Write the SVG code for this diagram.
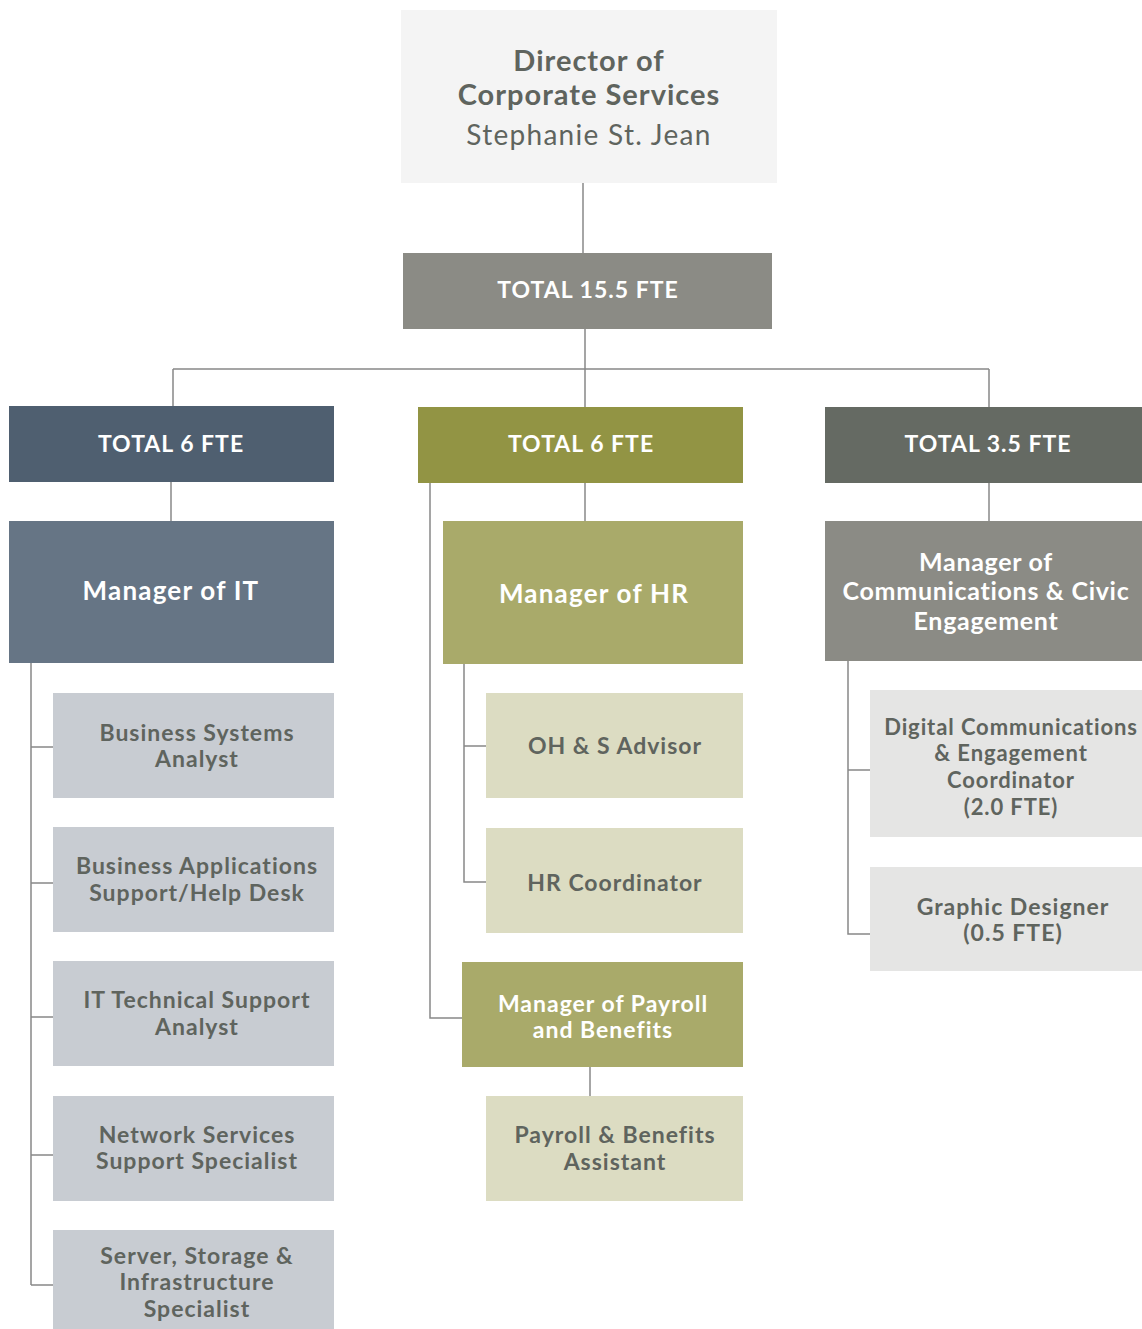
<svg xmlns="http://www.w3.org/2000/svg" width="1142" height="1329" viewBox="0 0 1142 1329">
<style>
text{font-family:Lato,"Noto Sans","Liberation Sans",sans-serif;text-anchor:middle;}
.hd{fill:#ffffff;font-size:23px;font-weight:700;letter-spacing:1px;}
.mg{fill:#ffffff;font-size:26px;font-weight:700;letter-spacing:1.2px;}
.mg2{fill:#ffffff;font-size:25px;font-weight:700;letter-spacing:0.7px;}
.ch{fill:#5f645e;font-size:23px;font-weight:700;letter-spacing:1px;}
.ch2{fill:#5f645e;font-size:22px;font-weight:700;letter-spacing:0.9px;}
.dir{fill:#5f645e;font-size:29px;font-weight:700;letter-spacing:1px;}
.nm{fill:#5f645e;font-size:28px;font-weight:400;letter-spacing:1.3px;}
.ln{stroke:#888888;stroke-width:1.5;fill:none;}
</style>
<rect width="1142" height="1329" fill="#ffffff"/>
<g id="connectors">
<path class="ln" d="M583 183V253"/>
<path class="ln" d="M585 329V369M173 369H989M173 369V406M585 369V407M989 369V407"/>
<path class="ln" d="M171 482V521"/>
<path class="ln" d="M31 663V1285M31 747H53M31 883H53M31 1017H53M31 1155H53M31 1285H53"/>
<path class="ln" d="M585 483V521"/>
<path class="ln" d="M430 483V1018H462"/>
<path class="ln" d="M464 664V882H486M464 746H486"/>
<path class="ln" d="M590 1067V1096"/>
<path class="ln" d="M989 483V521"/>
<path class="ln" d="M848 661V934H870M848 770H870"/>
</g>
<g id="director">
<rect x="401" y="10" width="376" height="173" fill="#f4f4f4"/>
<text class="dir" x="589" y="71">Director of</text>
<text class="dir" x="589" y="105">Corporate Services</text>
<text class="nm" x="589" y="145">Stephanie St. Jean</text>
</g>
<g id="total-all">
<rect x="403" y="253" width="369" height="76" fill="#8b8b85"/>
<text class="hd" x="588" y="298">TOTAL 15.5 FTE</text>
</g>
<g id="total-it">
<rect x="9" y="406" width="325" height="76" fill="#4f5f70"/>
<text class="hd" x="171" y="452">TOTAL 6 FTE</text>
</g>
<g id="mgr-it">
<rect x="9" y="521" width="325" height="142" fill="#667585"/>
<text class="mg" x="171" y="600">Manager of IT</text>
</g>
<g id="bsa">
<rect x="53" y="693" width="281" height="105" fill="#c8ccd2"/>
<text class="ch" x="197" y="741">Business Systems</text>
<text class="ch" x="197" y="767">Analyst</text>
</g>
<g id="basd">
<rect x="53" y="827" width="281" height="105" fill="#c8ccd2"/>
<text class="ch" x="197" y="874">Business Applications</text>
<text class="ch" x="197" y="901">Support/Help Desk</text>
</g>
<g id="itsa">
<rect x="53" y="961" width="281" height="105" fill="#c8ccd2"/>
<text class="ch" x="197" y="1008">IT Technical Support</text>
<text class="ch" x="197" y="1035">Analyst</text>
</g>
<g id="nsss">
<rect x="53" y="1096" width="281" height="105" fill="#c8ccd2"/>
<text class="ch" x="197" y="1143">Network Services</text>
<text class="ch" x="197" y="1169">Support Specialist</text>
</g>
<g id="ssis">
<rect x="53" y="1230" width="281" height="99" fill="#c8ccd2"/>
<text class="ch" x="197" y="1264">Server, Storage &amp;</text>
<text class="ch" x="197" y="1290">Infrastructure</text>
<text class="ch" x="197" y="1317">Specialist</text>
</g>
<g id="total-hr">
<rect x="418" y="407" width="325" height="76" fill="#929444"/>
<text class="hd" x="581" y="452">TOTAL 6 FTE</text>
</g>
<g id="mgr-hr">
<rect x="443" y="521" width="300" height="143" fill="#a9aa6a"/>
<text class="mg" x="594" y="603">Manager of HR</text>
</g>
<g id="ohs">
<rect x="486" y="693" width="257" height="105" fill="#dcdcc2"/>
<text class="ch" x="615" y="754">OH &amp; S Advisor</text>
</g>
<g id="hrc">
<rect x="486" y="828" width="257" height="105" fill="#dcdcc2"/>
<text class="ch" x="615" y="891">HR Coordinator</text>
</g>
<g id="mgr-payroll">
<rect x="462" y="962" width="281" height="105" fill="#a9aa6a"/>
<text class="hd" x="603" y="1012">Manager of Payroll</text>
<text class="hd" x="603" y="1038">and Benefits</text>
</g>
<g id="pba">
<rect x="486" y="1096" width="257" height="105" fill="#dcdcc2"/>
<text class="ch" x="615" y="1143">Payroll &amp; Benefits</text>
<text class="ch" x="615" y="1170">Assistant</text>
</g>
<g id="total-comms">
<rect x="825" y="407" width="317" height="76" fill="#656a63"/>
<text class="hd" x="988" y="452">TOTAL 3.5 FTE</text>
</g>
<g id="mgr-comms">
<rect x="825" y="521" width="317" height="140" fill="#8b8b85"/>
<text class="mg2" x="986" y="571">Manager of</text>
<text class="mg2" x="986" y="600">Communications &amp; Civic</text>
<text class="mg2" x="986" y="630">Engagement</text>
</g>
<g id="dce">
<rect x="870" y="690" width="272" height="147" fill="#e5e5e4"/>
<text class="ch2" x="1011" y="735">Digital Communications</text>
<text class="ch2" x="1011" y="761">&amp; Engagement</text>
<text class="ch2" x="1011" y="788">Coordinator</text>
<text class="ch2" x="1011" y="815">(2.0 FTE)</text>
</g>
<g id="gd">
<rect x="870" y="867" width="272" height="104" fill="#e5e5e4"/>
<text class="ch" x="1013" y="915">Graphic Designer</text>
<text class="ch" x="1013" y="941">(0.5 FTE)</text>
</g>
</svg>
